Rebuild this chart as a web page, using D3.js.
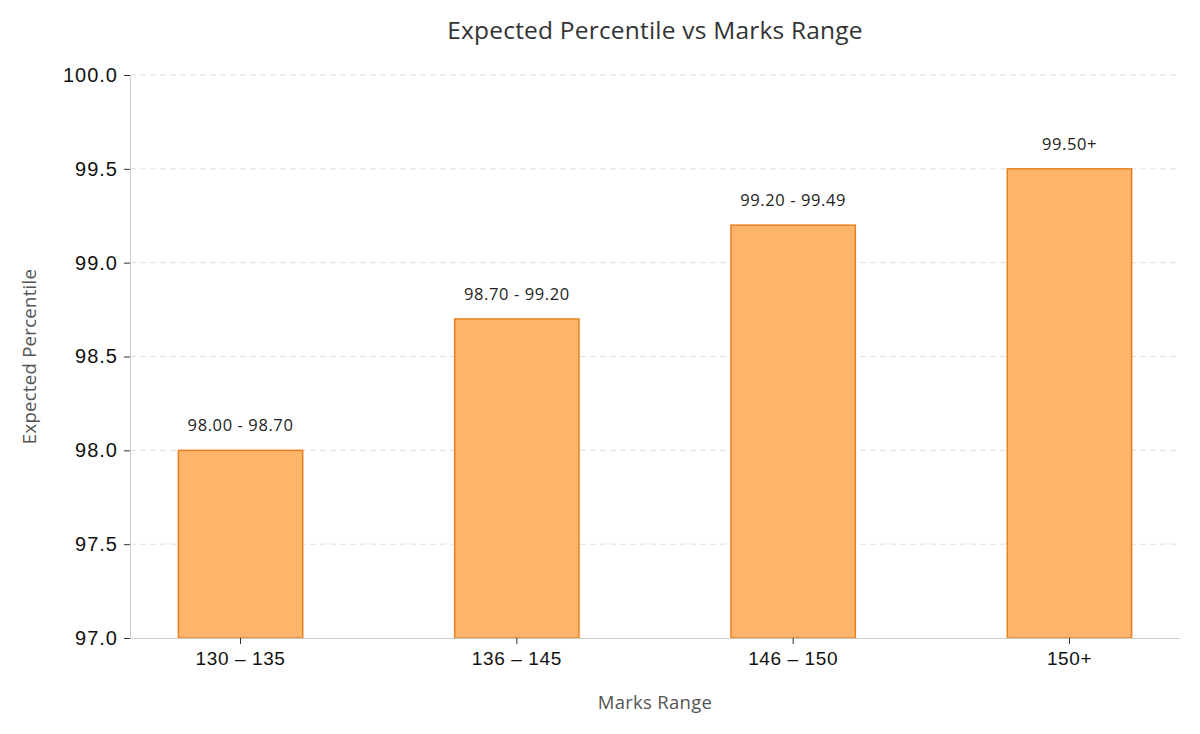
<!DOCTYPE html>
<html lang="en">
<head>
<meta charset="UTF-8">
<title>Expected Percentile vs Marks Range</title>
<script src="https://d3js.org/d3.v7.min.js"></script>
<style>
html,body{margin:0;padding:0;background:#fff}
svg{display:block;font-family:"Open Sans","Noto Sans",sans-serif}
.grid line{stroke:#e0e0e0;stroke-dasharray:6,4}
.bar{fill:#fdb46b;stroke:#e8801f;stroke-width:1.5}
.val{font-size:16.5px;fill:#222;text-anchor:middle;letter-spacing:0.6px}
.tick text{font-size:19px;fill:#111;letter-spacing:0.6px}
.y-axis .tick text{font-size:20px;letter-spacing:1px}
.axis-label{font-size:18.5px;fill:#555;text-anchor:middle;letter-spacing:0.3px}
.title{font-size:24.5px;fill:#333;text-anchor:middle;letter-spacing:0.2px}
</style>
</head>
<body>
<svg id="chart" width="1200" height="734"></svg>
<script>
// data
const categories = ['130 – 135', '136 – 145', '146 – 150', '150+'];
const percentiles = [98.0, 98.7, 99.2, 99.5];
const valueLabels = ['98.00 - 98.70', '98.70 - 99.20', '99.20 - 99.49', '99.50+'];
const yTicks = [97.0, 97.5, 98.0, 98.5, 99.0, 99.5, 100.0];

const svg = d3.select('#chart');
const plotLeft = 130, plotRight = 1180, plotTop = 75, plotBottom = 638;

const x = d3.scaleBand().domain(categories).range([plotLeft, plotRight])
  .paddingInner(0.55).paddingOuter(0.175);
const y = d3.scaleLinear().domain([97, 100]).range([plotBottom, plotTop]);

// grid
svg.append('g').attr('class', 'grid')
  .selectAll('line').data(yTicks.slice(1)).join('line')
  .attr('x1', plotLeft).attr('x2', plotRight)
  .attr('y1', d => y(d)).attr('y2', d => y(d));

// bars
svg.selectAll('rect.bar').data(percentiles).join('rect')
  .attr('class', 'bar')
  .attr('x', (d, i) => x(categories[i]))
  .attr('y', d => y(d))
  .attr('width', x.bandwidth())
  .attr('height', d => y(97) - y(d));

svg.selectAll('text.val').data(percentiles).join('text')
  .attr('class', 'val')
  .attr('x', (d, i) => x(categories[i]) + x.bandwidth() / 2)
  .attr('y', d => y(d) - 19)
  .text((d, i) => valueLabels[i]);

// axes
const yAxis = svg.append('g').attr('class', 'y-axis').attr('transform', 'translate(' + plotLeft + ',0)')
  .call(d3.axisLeft(y).tickValues(yTicks).tickFormat(d3.format('.1f')).tickSize(6).tickPadding(6));
yAxis.select('.domain').attr('stroke', '#ccc').attr('d', 'M0.5,' + plotTop + 'V' + plotBottom);
yAxis.selectAll('.tick line').attr('stroke', '#333');

const xAxis = svg.append('g').attr('transform', 'translate(0,' + plotBottom + ')')
  .call(d3.axisBottom(x).tickSize(6).tickPadding(8));
xAxis.select('.domain').attr('stroke', '#ccc').attr('d', 'M' + plotLeft + ',0.5H' + plotRight);
xAxis.selectAll('.tick line').attr('stroke', '#333');

// labels
svg.append('text').attr('class', 'title').attr('x', 655).attr('y', 39)
  .text('Expected Percentile vs Marks Range');
svg.append('text').attr('class', 'axis-label').attr('x', 655).attr('y', 709)
  .text('Marks Range');
svg.append('text').attr('class', 'axis-label')
  .attr('transform', 'translate(36,' + ((plotTop + plotBottom) / 2) + ') rotate(-90)')
  .text('Expected Percentile');
</script>
</body>
</html>
